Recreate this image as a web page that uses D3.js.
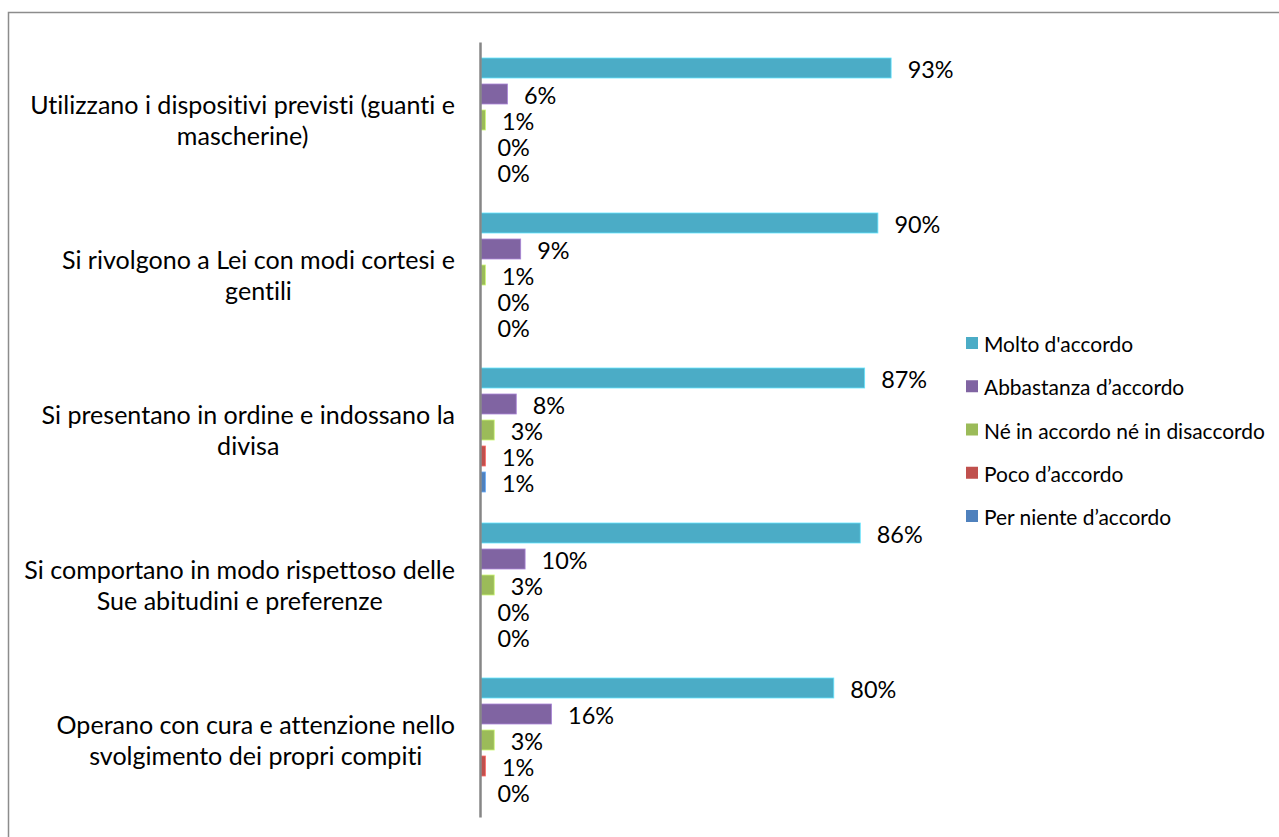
<!DOCTYPE html>
<html><head><meta charset="utf-8">
<script src="https://cdn.jsdelivr.net/npm/d3@7"></script>
<style>html,body{margin:0;padding:0;background:#fff;overflow:hidden} text{font-variant-ligatures:none;font-feature-settings:"liga" 0,"clig" 0}</style>
</head><body>
<svg id="chart" width="1279" height="837"></svg>
<script>
const categories = [
  ["Utilizzano i dispositivi previsti (guanti e", "mascherine)"],
  ["Si rivolgono a Lei con modi cortesi e", "gentili"],
  ["Si presentano in ordine e indossano la", "divisa"],
  ["Si comportano in modo rispettoso delle", "Sue abitudini e preferenze"],
  ["Operano con cura e attenzione nello", "svolgimento dei propri compiti"]
];
const seriesNames = ["Molto d'accordo", "Abbastanza d\u2019accordo", "N\u00e9 in accordo n\u00e9 in disaccordo", "Poco d\u2019accordo", "Per niente d\u2019accordo"];
const molto = [93, 90, 87, 86, 80];
const abbastanza = [6, 9, 8, 10, 16];
const neutro = [1, 1, 3, 3, 3];
const poco = [0, 0, 1, 0, 1];
const perNiente = [0, 0, 1, 0, 0];
const seriesValues = [molto, abbastanza, neutro, poco, perNiente];
const colors = ["#4BACC6", "#8064A2", "#9BBB59", "#C0504D", "#4F81BD"];

const FONT = "Lato, 'Open Sans', sans-serif";
const svg = d3.select("#chart");

// frame
svg.append("rect").attr("x", 8.5).attr("y", 12.5).attr("width", 1300).attr("height", 900)
  .attr("fill", "none").attr("stroke", "#8c8c8c").attr("stroke-width", 1.5);

// font fitting helper
function fitSize(text, target) {
  const t = svg.append("text").attr("font-family", FONT).attr("font-size", 100).text(text);
  const w = t.node().getComputedTextLength();
  t.remove();
  return 100 * target / w;
}
const catSize = fitSize("Si comportano in modo rispettoso delle", 431);
const valSize = fitSize("93%", 46);
const legSize = fitSize(seriesNames[2], 281);

const x = d3.scaleLinear().domain([0, 100]).range([481, 922]);
const y0 = d3.scaleBand().domain(d3.range(categories.length)).range([42, 817]);
const y1 = d3.scaleBand().domain(d3.range(seriesNames.length)).range([16, 140]).paddingInner(6 / 26);

// bars
categories.forEach((c, i) => {
  const g = svg.append("g").attr("transform", `translate(0,${y0(i)})`);
  seriesValues.forEach((vals, s) => {
    const v = vals[i];
    g.append("rect")
      .attr("x", x(0)).attr("y", y1(s))
      .attr("width", x(v) - x(0)).attr("height", y1.bandwidth())
      .attr("fill", colors[s])
      .attr("stroke", v > 0 ? d3.color(colors[s]).brighter(0.8) : "none")
      .attr("stroke-width", 0.8);
    g.append("text")
      .attr("x", x(v) + 16.5).attr("y", y1(s) + y1.bandwidth() / 2 + 1)
      .attr("dominant-baseline", "central")
      .attr("font-family", FONT).attr("font-size", valSize).attr("fill", "#000")
      .text(v + "%");
  });
});

// axis line
const axis = d3.axisLeft(y0).tickSize(0).tickFormat("");
svg.append("g").attr("transform", "translate(480,0)").call(axis)
  .call(g => g.select(".domain").attr("stroke", "#868686").attr("stroke-width", 2.5));

// category labels
categories.forEach((lines, i) => {
  const cy = y0(i) + y0.bandwidth() / 2;
  const g = svg.append("g");
  const texts = lines.map((ln, k) => g.append("text")
    .attr("font-family", FONT).attr("font-size", catSize).attr("fill", "#000")
    .attr("text-anchor", "middle").attr("dominant-baseline", "central")
    .attr("y", cy + (k - (lines.length - 1) / 2) * 31)
    .text(ln));
  const maxW = d3.max(texts, t => t.node().getComputedTextLength());
  texts.forEach(t => t.attr("x", 455 - maxW / 2));
});

// legend
const leg = svg.append("g");
seriesNames.forEach((n, s) => {
  const cy = 343.5 + s * 43.25;
  leg.append("rect").attr("x", 966).attr("y", cy - 6.5).attr("width", 12).attr("height", 12).attr("fill", colors[s]);
  leg.append("text").attr("x", 984).attr("y", cy).attr("dominant-baseline", "central")
    .attr("font-family", FONT).attr("font-size", legSize).attr("fill", "#000").text(n);
});
</script>
</body></html>
